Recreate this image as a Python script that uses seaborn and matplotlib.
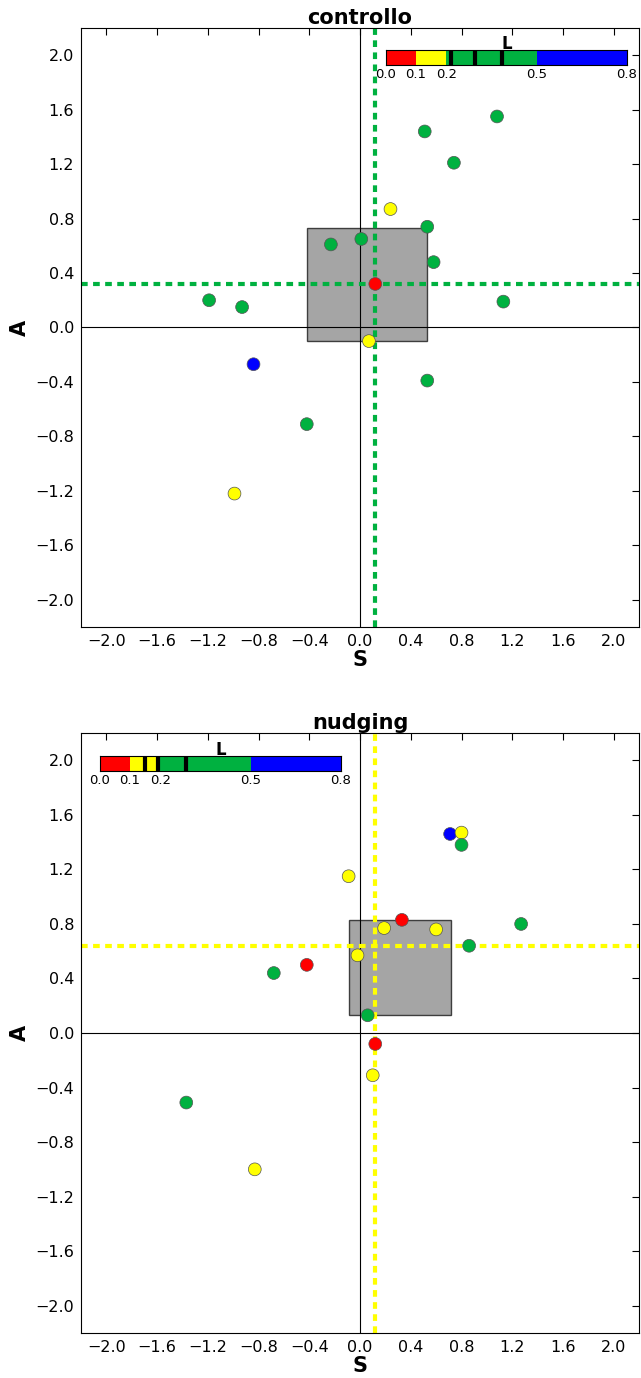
import seaborn as sns
import pandas as pd
import matplotlib.pyplot as plt
from matplotlib.patches import Rectangle

sns.set_style("white")
plt.rcParams['font.family'] = ['DejaVu Sans']
plt.rcParams.update({"text.color": "black", "axes.labelcolor": "black",
                     "xtick.color": "black", "ytick.color": "black"})

# L classes -> colours
L_EDGES = [0.0, 0.1, 0.2, 0.5, 0.8]
L_CLASSES = ["0.0-0.1", "0.1-0.2", "0.2-0.5", "0.5-0.8"]
L_COLORS = ["#ff0000", "#ffff00", "#00b140", "#0000ff"]

# controllo
ctrl_S = [1.08, 0.51, 0.74, 0.24, 0.53, -0.23, 0.01, 0.58, 0.12, -1.19, -0.93, 1.13, 0.07, -0.84, 0.53, -0.42, -0.99]
ctrl_A = [1.55, 1.44, 1.21, 0.87, 0.74, 0.61, 0.65, 0.48, 0.32, 0.20, 0.15, 0.19, -0.10, -0.27, -0.39, -0.71, -1.22]
ctrl_L = ["0.2-0.5", "0.2-0.5", "0.2-0.5", "0.1-0.2", "0.2-0.5", "0.2-0.5", "0.2-0.5", "0.2-0.5", "0.0-0.1",
          "0.2-0.5", "0.2-0.5", "0.2-0.5", "0.1-0.2", "0.5-0.8", "0.2-0.5", "0.2-0.5", "0.1-0.2"]
ctrl_box = [-0.42, 0.53, -0.10, 0.73]   # S min, S max, A min, A max
ctrl_center = [0.12, 0.32]
ctrl_Lmarks = [0.215, 0.296, 0.387]

# nudging
nudg_S = [0.71, 0.80, 0.80, -0.09, 0.33, 0.19, 0.60, 1.27, 0.86, -0.02, -0.42, -0.68, 0.06, 0.12, 0.10, -1.37, -0.83]
nudg_A = [1.46, 1.47, 1.38, 1.15, 0.83, 0.77, 0.76, 0.80, 0.64, 0.57, 0.50, 0.44, 0.13, -0.08, -0.31, -0.51, -1.00]
nudg_L = ["0.5-0.8", "0.1-0.2", "0.2-0.5", "0.1-0.2", "0.0-0.1", "0.1-0.2", "0.1-0.2", "0.2-0.5", "0.2-0.5",
          "0.1-0.2", "0.0-0.1", "0.2-0.5", "0.2-0.5", "0.0-0.1", "0.1-0.2", "0.2-0.5", "0.1-0.2"]
nudg_box = [-0.09, 0.72, 0.13, 0.83]
nudg_center = [0.12, 0.64]
nudg_Lmarks = [0.149, 0.194, 0.284]

TICKS = [-2.0, -1.6, -1.2, -0.8, -0.4, 0.0, 0.4, 0.8, 1.2, 1.6, 2.0]

pal = dict(zip(L_CLASSES, L_COLORS))

fig = plt.figure(figsize=(6.41, 13.78), dpi=100)
ax1 = fig.add_axes([0.1264, 0.545, 0.8706, 0.4347])
ax2 = fig.add_axes([0.1264, 0.0327, 0.8706, 0.4353])
bar1 = fig.add_axes([0.602, 0.9528, 0.376, 0.0109])
bar2 = fig.add_axes([0.156, 0.4405, 0.376, 0.0109])


def panel(ax, bar, title, S, A, L, box, center, marks, line_col):
    df = pd.DataFrame({"S": S, "A": A, "L": L})
    ax.axhline(0, color="black", lw=0.8, zorder=1)
    ax.axvline(0, color="black", lw=0.8, zorder=1)
    ax.add_patch(Rectangle((box[0], box[2]), box[1] - box[0], box[3] - box[2],
                           facecolor="#7f7f7f", alpha=0.7, edgecolor="black", lw=1, zorder=0.5))
    ax.axvline(center[0], color=line_col, lw=3, dashes=(1.6, 1.3), zorder=1.5)
    ax.axhline(center[1], color=line_col, lw=3, dashes=(1.6, 1.3), zorder=1.5)
    sns.scatterplot(data=df, x="S", y="A", hue="L", palette=pal, s=85,
                    edgecolor="#555555", linewidth=0.5, legend=False, ax=ax, zorder=3)
    ax.set_xlim(-2.2, 2.2)
    ax.set_ylim(-2.2, 2.2)
    ax.set_xticks(TICKS)
    ax.set_yticks(TICKS)
    ax.set_xticklabels([f"{t:.1f}".replace("-", "\u2212") for t in TICKS])
    ax.set_yticklabels([f"{t:.1f}".replace("-", "\u2212") for t in TICKS])
    ax.tick_params(direction="in", top=True, right=True, length=5, labelsize=11.5, pad=5)
    ax.set_xlabel("S", fontsize=15, fontweight="bold", labelpad=1)
    ax.set_ylabel("A", fontsize=15, fontweight="bold", labelpad=4)
    ax.set_title(title, fontsize=15, fontweight="bold", pad=3)
    for sp in ax.spines.values():
        sp.set_color("black")
        sp.set_linewidth(0.8)

    # L colour bar
    for lo, hi, c in zip(L_EDGES[:-1], L_EDGES[1:], L_COLORS):
        bar.axvspan(lo, hi, color=c, lw=0)
    for m in marks:
        bar.axvline(m, color="black", lw=3)
    bar.set_xlim(0, 0.8)
    bar.set_ylim(0, 1)
    bar.set_yticks([])
    bar.set_xticks(L_EDGES)
    bar.set_xticklabels([f"{e:.1f}" for e in L_EDGES])
    bar.tick_params(axis="x", length=0, labelsize=9.5, pad=2)
    bar.set_title("L", fontsize=12, fontweight="bold", pad=1)
    for sp in bar.spines.values():
        sp.set_color("black")
        sp.set_linewidth(0.8)


panel(ax1, bar1, "controllo", ctrl_S, ctrl_A, ctrl_L, ctrl_box, ctrl_center, ctrl_Lmarks, "#00b140")
panel(ax2, bar2, "nudging", nudg_S, nudg_A, nudg_L, nudg_box, nudg_center, nudg_Lmarks, "#ffff00")

fig.savefig("out.png", dpi=100)
